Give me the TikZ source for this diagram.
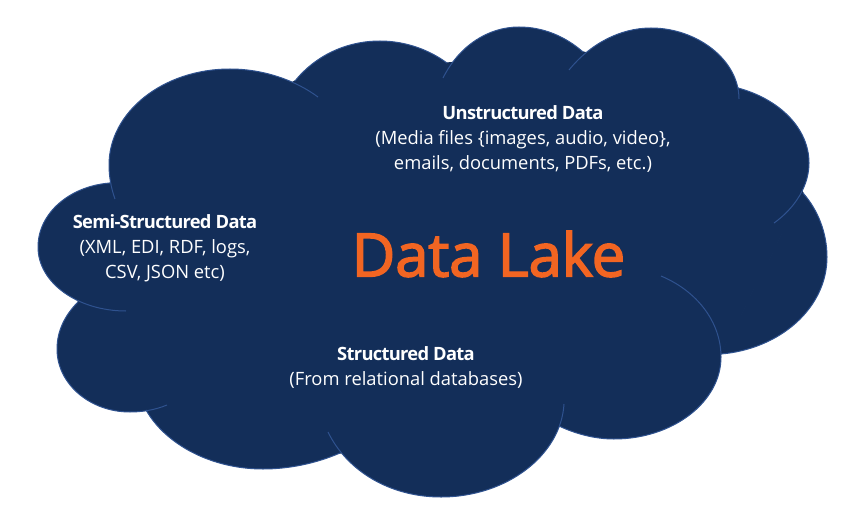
\documentclass[tikz,border=0pt]{standalone}
\usepackage{fontspec}
\setmainfont{Open Sans}
\newfontfamily\headfont[LetterSpace=-3.9,BoldFont={Open Sans Bold}]{Open Sans}
\newfontfamily\lakefont[FakeBold=2.4,LetterSpace=-0.5]{Open Sans}
\definecolor{cloudfill}{HTML}{132E59}
\definecolor{cloudline}{HTML}{2F528F}
\definecolor{lakeorange}{HTML}{F26522}
\newcommand{\cloudlobes}{%
  \path[lobe] (115,199) .. controls (111,188) and (109,176) .. (109,165) .. controls (109,112) and (163,69) .. (230,69) .. controls (263,69) and (295,80) .. (318,97);
  \path[lobe] (295,81) .. controls (315,56) and (346,41) .. (380,41) .. controls (404,41) and (428,49) .. (447,63);
  \path[lobe] (443,78) .. controls (459,46) and (488,27) .. (519,27) .. controls (544,27) and (566,37) .. (583,52);
  \path[lobe] (569,70) .. controls (590,44) and (620,28) .. (651,28) .. controls (697,28) and (739,60) .. (739,99);
  \path[lobe] (738,88) .. controls (779,99) and (809,128) .. (809,163) .. controls (809,186) and (795,208) .. (774,223);
  \path[lobe] (803,193) .. controls (818,210) and (827,233) .. (827,257) .. controls (827,308) and (780,349) .. (721,354);
  \path[lobe] (661,276) .. controls (697,291) and (721,322) .. (721,357) .. controls (721,402) and (673,439) .. (614,439) .. controls (595,439) and (576,434) .. (559,426);
  \path[lobe] (564,404) .. controls (561,455) and (507,497) .. (441,497) .. controls (390,497) and (347,471) .. (328,432);
  \path[lobe] (340,453) .. controls (317,463) and (290,469) .. (263,469) .. controls (212,469) and (166,445) .. (146,410);
  \path[lobe] (167,405) .. controls (155,410) and (142,412) .. (130,412) .. controls (90,412) and (57,384) .. (57,349) .. controls (57,331) and (65,315) .. (78,302);
  \path[lobe] (110,183) .. controls (70,186) and (38,213) .. (38,247) .. controls (38,283) and (78,311) .. (126,311);
}
\newcommand{\hd}[1]{{\headfont\bfseries #1}}
\tikzset{
  label/.style={text=white,align=center,font=\fontsize{18.35}{25}\selectfont},
  title/.style={text=lakeorange,font=\lakefont\fontsize{60}{60}\selectfont}
}
\begin{document}
\begin{tikzpicture}[x=1pt,y=-1pt]
\useasboundingbox (0,0) rectangle (862,527);
\fill[white] (0,0) rectangle (862,527);
\tikzset{lobe/.style={fill=cloudfill}}
\cloudlobes
\path[fill=cloudfill,draw=cloudfill,line width=1.2pt] (110,183) -- (295,81) -- (447,63) -- (583,52) -- (738,88) -- (803,193) -- (721,354) -- (559,426) -- (340,453) -- (146,410) -- (78,302) -- cycle;
\tikzset{lobe/.style={draw=cloudline,line width=1pt}}
\cloudlobes
\node[label] (unstructured) at (523,139) {\hd{Unstructured Data}\\(Media files \{images, audio, video\},\\emails, documents, PDFs, etc.)};
\node[label] (semi) at (165,248.5) {\hd{Semi-Structured Data}\\(XML, EDI, RDF, logs,\\CSV, JSON etc)};
\node[label] (structured) at (406,367.5) {\hd{Structured Data}\\(From relational databases)};
\node[title] (lake) at (488.5,254) {Data Lake};
\end{tikzpicture}
\end{document}
